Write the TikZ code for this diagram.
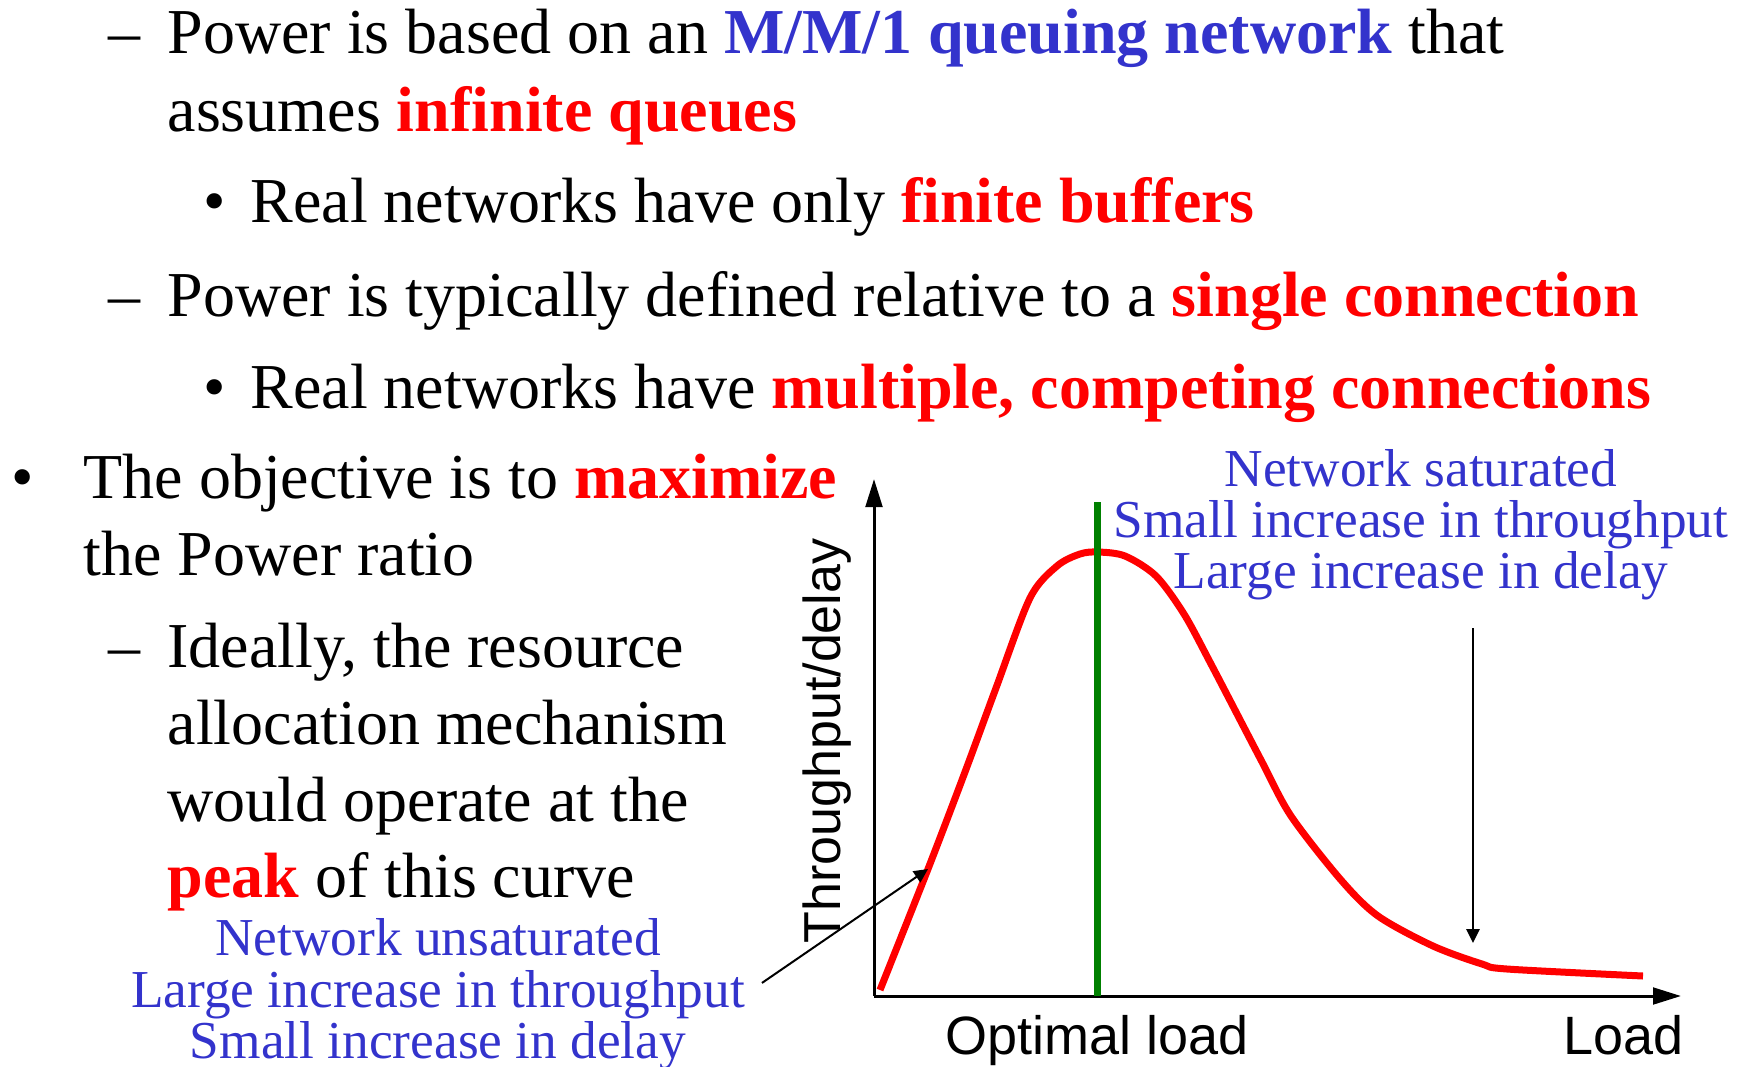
\documentclass[tikz,border=0pt]{standalone}
\usepackage{fontspec}
\setmainfont{Liberation Serif}
\setsansfont{Liberation Sans}
\usetikzlibrary{arrows.meta}
\definecolor{noteblue}{RGB}{51,51,204}
\definecolor{optgreen}{RGB}{0,128,0}
\tikzset{slide/.style={inner sep=0pt, anchor=base west, font=\fontsize{19.2}{23}\selectfont}}
\tikzset{note/.style={inner sep=0pt, anchor=base, text=noteblue, font=\fontsize{16}{16}\selectfont}}
\tikzset{axislabel/.style={inner sep=0pt, font=\sffamily\fontsize{16.2}{19}\selectfont}}
\tikzset{axis/.style={line width=0.9pt, -{Triangle[length=8.4pt, width=5pt]}}}
\tikzset{curve/.style={line width=2.1pt, red, line join=round}}
\tikzset{optimum/.style={line width=2.1pt, optgreen}}
\tikzset{pointer/.style={line width=0.6pt, -{Triangle[length=4.2pt, width=4pt]}}}

\begin{document}
\begin{tikzpicture}[x=0.3pt, y=-0.3pt]
\useasboundingbox (0,0) rectangle (1746,1066);

% slide text
\node[slide] (dashmm) at (108,53) {–};
\node[slide] (mmone) at (167,53) {Power is based on an \textcolor{noteblue}{\textbf{M/M/1 queuing network}} that};
\node[slide] (infq) at (167,131) {assumes \textcolor{red}{\textbf{infinite queues}}};
\node[slide] (dotbuf) at (203,222) {•};
\node[slide] (finbuf) at (250,222) {Real networks have only \textcolor{red}{\textbf{finite buffers}}};
\node[slide] (dashconn) at (108,316) {–};
\node[slide] (single) at (167,316) {Power is typically defined relative to a \textcolor{red}{\textbf{single connection}}};
\node[slide] (dotmulti) at (203,408) {•};
\node[slide] (multi) at (250,408) {Real networks have \textcolor{red}{\textbf{multiple, competing connections}}};
\node[slide] (dotobj) at (11,498) {•};
\node[slide] (objective) at (83,498) {The objective is to \textcolor{red}{\textbf{maximize}}};
\node[slide] (ratio) at (83,575) {the Power ratio};
\node[slide] (dashideal) at (108,667) {–};
\node[slide] (ideal) at (167,667) {Ideally, the resource};
\node[slide] (alloc) at (167,744) {allocation mechanism};
\node[slide] (operate) at (167,821) {would operate at the};
\node[slide] (peak) at (167,897) {\textcolor{red}{\textbf{peak}} of this curve};

% notes
\node[note] (lowstate) at (438,955) {Network unsaturated};
\node[note] (lowthru) at (438,1007) {Large increase in throughput};
\node[note] (lowdelay) at (438,1058) {Small increase in delay};
\node[note] (histate) at (1421,486) {Network saturated};
\node[note] (hithru) at (1421,537) {Small increase in throughput};
\node[note] (hidelay) at (1421,588) {Large increase in delay};

% axes
\coordinate (origin) at (874,996);
\coordinate (ytop) at (874,479);
\coordinate (xend) at (1681,996);
\draw[axis] (origin) -- (ytop);
\draw[axis] (origin) -- (xend);
\node[axislabel, rotate=90, anchor=base, font=\sffamily\fontsize{15.6}{19}\selectfont] (ylabel) at (840,741) {Throughput/delay};
\node[axislabel, anchor=base] (optload) at (1097,1054) {Optimal load};
\node[axislabel, anchor=base east] (load) at (1684,1054) {Load};

% power curve
\draw[curve] plot[smooth, tension=0.5] coordinates {(880,990) (928,869) (965,772) (996,688) (1030,598) (1057,566) (1080,554) (1098,552) (1125,556) (1156,576) (1184,614) (1211,664) (1261,760) (1291,816) (1341,880) (1378,916) (1433,946) (1482,964) (1507,969) (1643,976)};
\coordinate (opttop) at (1097,502);
\coordinate (optfoot) at (1097,996);
\draw[optimum] (opttop) -- (optfoot);

% pointers
\coordinate (climb) at (928,869);
\coordinate (tailtop) at (1473,628);
\coordinate (tail) at (1473,943);
\draw[pointer, shorten <=6pt] (lowthru.east) -- (climb);
\draw[pointer] (tailtop) -- (tail);
\end{tikzpicture}
\end{document}
